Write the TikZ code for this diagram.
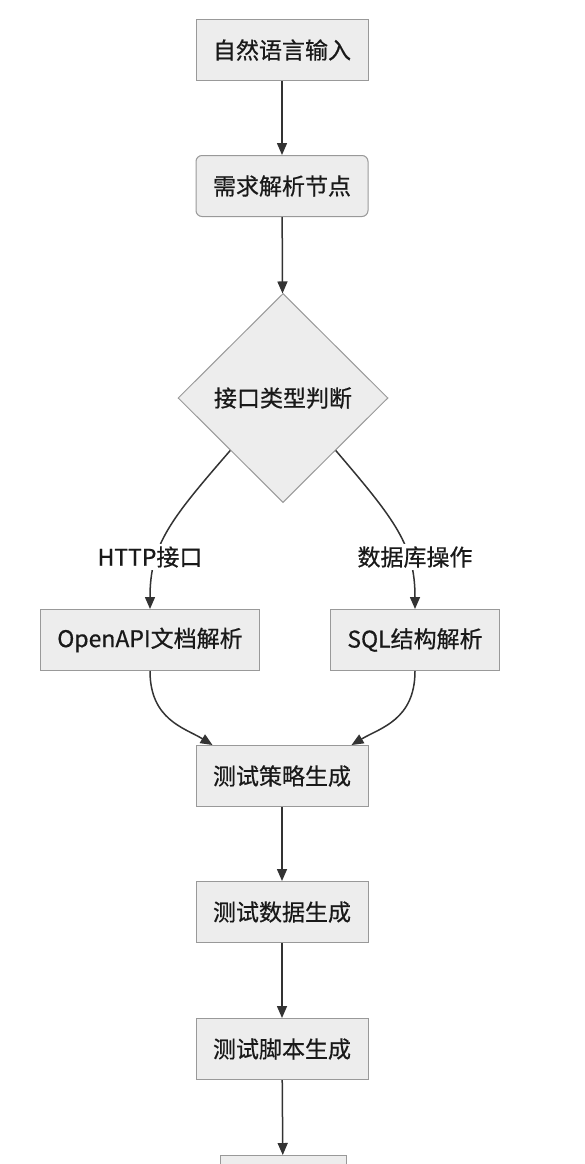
\documentclass[tikz,border=0pt]{standalone}
\usepackage{fontspec}
\setmainfont{Noto Sans CJK SC}[FakeBold=0.6]
\usetikzlibrary{shapes.geometric}
\usetikzlibrary{arrows.meta}
\tikzset{
  % plain step of the flow
  stepbox/.style={draw=black!40,fill=black!7,line width=1pt,
    inner xsep=17pt,minimum height=61pt,text=black!90},
  % decision diamond
  choice/.style={diamond,draw=black!40,fill=black!7,line width=1pt,
    minimum width=210pt,minimum height=209pt,inner sep=0pt,text=black!90},
  % connector with filled head
  flow/.style={draw=black!80,line width=1.5pt,
    -{Triangle[length=12pt,width=10pt]}},
  % text sitting on a connector
  edgelabel/.style={fill=white,inner sep=2pt,text=black!90},
}

\begin{document}
\begin{tikzpicture}[x=1pt,y=-1pt,font=\fontsize{23}{28}\selectfont]
\useasboundingbox (0,0) rectangle (584,1164);
\clip (0,0) rectangle (584,1164);
\node[stepbox] (input) at (282,50) {自然语言输入};
\node[stepbox,rounded corners=6pt] (parse) at (282,186) {需求解析节点};
\node[choice] (kind) at (283,398) {接口类型判断};
\node[stepbox] (openapi) at (150,640) {OpenAPI文档解析};
\node[stepbox] (sql) at (415,640) {SQL结构解析};
\node[stepbox] (plan) at (282,776) {测试策略生成};
\node[stepbox] (data) at (282,912) {测试数据生成};
\node[stepbox] (script) at (282,1049) {测试脚本生成};
\node[stepbox,minimum width=126pt] (last) at (283,1186) {};
\draw[flow] (input)--(parse);
\draw[flow] (parse)--(kind);
\draw[flow] (kind.south west) .. controls (170,520) and (150,545) .. (openapi.north);
\draw[flow] (kind.south east) .. controls (395,520) and (415,545) .. (sql.north);
\node[edgelabel] (httplbl) at (150,557) {HTTP接口};
\node[edgelabel] (dblbl) at (415,557) {数据库操作};
\draw[flow] (openapi.south) .. controls (150,720) and (185,728) .. ([xshift=17pt]plan.north west);
\draw[flow] (sql.south) .. controls (415,720) and (380,728) .. ([xshift=-17pt]plan.north east);
\draw[flow] (plan)--(data);
\draw[flow] (data)--(script);
\draw[flow] (script)--(last);
\end{tikzpicture}
\end{document}
